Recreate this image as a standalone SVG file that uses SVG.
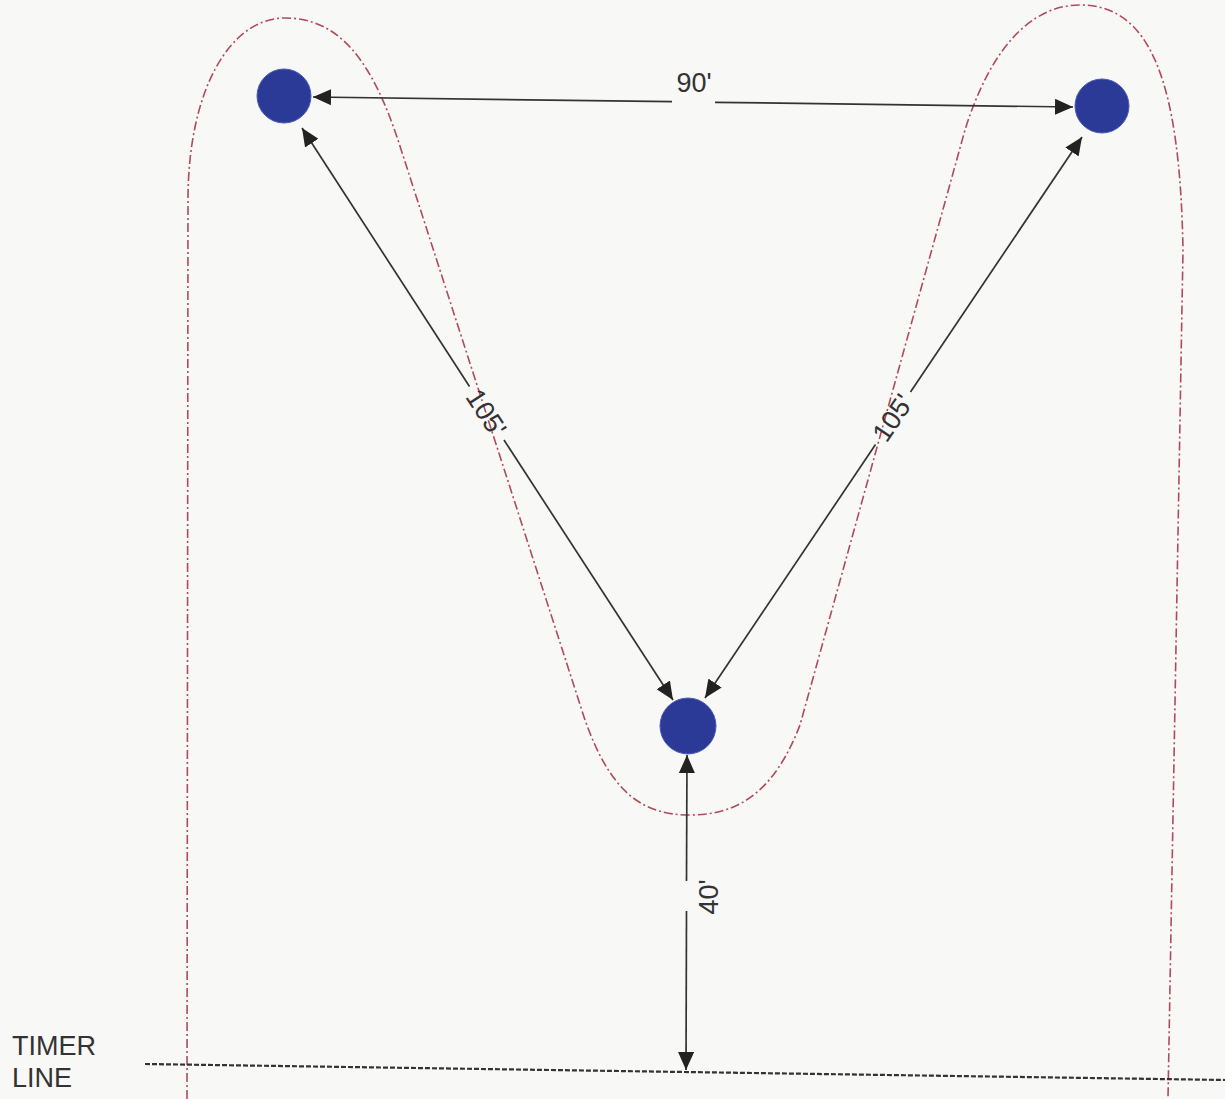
<svg xmlns="http://www.w3.org/2000/svg" width="1225" height="1099" viewBox="0 0 1225 1099">
<style>
.lbl{font-family:"Liberation Sans",Arial,sans-serif;font-size:27px;fill:#333}
.dim{stroke:#333;stroke-width:1.7;fill:none}
.node{fill:#2b3a96;stroke:#4a5ab8;stroke-width:1}
.course{fill:none;stroke:#b04a5c;stroke-width:1.6;stroke-dasharray:9 3 2 3}
.timer{stroke:#333;stroke-width:2.2;stroke-dasharray:5 2;fill:none}
</style>
<defs>
<marker id="ahb" viewBox="0 0 10 10" refX="10" refY="5" markerWidth="18" markerHeight="16" markerUnits="userSpaceOnUse" orient="auto-start-reverse" preserveAspectRatio="none">
<path d="M0,0 L10,5 L0,10 Z" fill="#222"/>
</marker>
</defs>
<rect width="1225" height="1099" fill="#f8f8f6"/>
<g id="course">
<path class="course" d="M187 1099 L188 200 C188 90 230 18 285 18 C340 18 372 62 398 140 L585 720 C610 790 640 815 690 815 C740 815 775 790 800 725 L965 130 C990 50 1030 5 1080 5 C1150 5 1180 80 1183 250 L1168 1099"/>
</g>
<g id="timer-line">
<path class="timer" d="M145 1064 L1225 1080"/>
<text class="lbl" x="12" y="1055">TIMER</text>
<text class="lbl" x="12" y="1087">LINE</text>
</g>
<g id="connectors">
<path class="dim" d="M313 97 L672 101.7" marker-start="url(#ahb)"/>
<path class="dim" d="M715 102.3 L1073 107" marker-end="url(#ahb)"/>
<text class="lbl" x="694" y="92" text-anchor="middle">90'</text>
<path class="dim" d="M302 128 L469.5 386.5" marker-start="url(#ahb)"/>
<path class="dim" d="M504 440 L673 700" marker-end="url(#ahb)"/>
<text class="lbl" text-anchor="middle" dominant-baseline="central" transform="translate(486,413) rotate(57)">105'</text>
<path class="dim" d="M1082 137 L910.5 392" marker-start="url(#ahb)"/>
<path class="dim" d="M875.5 444.5 L705 698" marker-end="url(#ahb)"/>
<text class="lbl" text-anchor="middle" dominant-baseline="central" transform="translate(893,418) rotate(-56)">105'</text>
<path class="dim" d="M687 755 L686.5 881" marker-start="url(#ahb)"/>
<path class="dim" d="M686.5 911 L686 1070" marker-end="url(#ahb)"/>
<text class="lbl" text-anchor="middle" transform="translate(718,897) rotate(-90)">40'</text>
</g>
<g id="node-top-left"><circle class="node" cx="284" cy="96" r="27"/></g>
<g id="node-top-right"><circle class="node" cx="1102" cy="106" r="27"/></g>
<g id="node-bottom"><circle class="node" cx="688" cy="726" r="28"/></g>
</svg>
